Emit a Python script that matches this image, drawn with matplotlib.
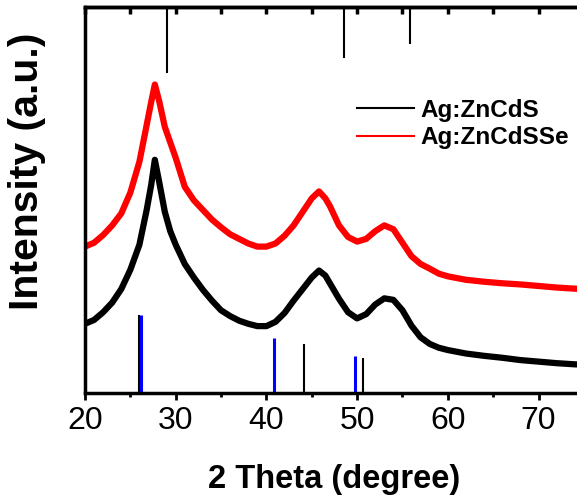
import matplotlib
matplotlib.use("Agg")
import matplotlib.pyplot as plt
from matplotlib.ticker import MultipleLocator, NullFormatter

plt.rcParams["font.family"] = ["Liberation Sans", "DejaVu Sans"]

# ---------- DATA ----------
two_theta = [20, 21, 22, 23, 24, 25, 26, 26.8, 27.3, 27.7, 28.2, 28.8, 29.4, 30,
             31, 32, 33, 34, 35, 36, 37, 38, 39, 40, 41, 42, 43, 44, 45, 45.8,
             46.5, 47, 48, 49, 50, 51, 52, 53, 54, 55, 56, 57, 58, 59, 60, 62,
             64, 66, 68, 70, 72, 74, 75]

zncds = [18.0, 19.0, 21.0, 23.5, 27.0, 32.0, 38.5, 47.5, 54.0, 60.5, 54.5, 47.0,
         42.0, 38.5, 33.5, 30.0, 26.8, 24.0, 21.5, 20.0, 18.8, 18.0, 17.4, 17.4,
         18.5, 20.8, 24.0, 27.0, 30.0, 31.8, 30.5, 28.5, 24.5, 21.0, 19.4, 20.5,
         23.0, 24.6, 24.2, 21.5, 17.5, 14.5, 12.8, 11.8, 11.2, 10.3, 9.7, 9.2,
         8.6, 8.2, 7.8, 7.5, 7.4]

zncdsse = [38.0, 39.0, 41.0, 43.5, 46.6, 52.0, 60.0, 69.5, 75.5, 80.0, 75.5, 69.0,
           65.0, 61.0, 53.5, 50.0, 47.5, 45.0, 43.0, 41.2, 40.0, 38.8, 38.0, 38.0,
           38.8, 40.8, 43.5, 47.0, 50.5, 52.3, 50.5, 48.5, 43.5, 40.5, 39.3, 40.0,
           42.0, 43.5, 42.5, 39.0, 35.5, 33.5, 32.3, 31.0, 30.3, 29.4, 28.9, 28.5,
           28.2, 27.8, 27.4, 27.1, 27.0]

# reference patterns
top_ref_pos = [29.0, 48.6, 55.8]
top_ref_len = [17.0, 13.1, 9.6]
bot_black_pos = [25.9, 44.2, 50.6]
bot_black_h = [20.3, 12.7, 9.1]
bot_blue_pos = [26.2, 40.8, 49.8]
bot_blue_h = [20.3, 14.3, 9.7]

fig = plt.figure(figsize=(5.77, 4.97), dpi=100)
ax = fig.add_axes([0.1473, 0.2087, 0.8646, 0.7766])

ax.plot(two_theta, zncds, color="black", lw=4.5, label="Ag:ZnCdS")
ax.plot(two_theta, zncdsse, color="red", lw=4.5, label="Ag:ZnCdSSe")

ax.vlines(top_ref_pos, [100 - h for h in top_ref_len], 100, color="black", lw=1.5)
ax.vlines(bot_black_pos, 0, bot_black_h, color="black", lw=1.5)
ax.vlines(bot_blue_pos, 0, bot_blue_h, color="blue", lw=2.2)

ax.set_xlim(20, 75)
ax.set_ylim(0, 100)
ax.set_yticks([])

ax.xaxis.set_major_locator(MultipleLocator(10))
ax.xaxis.set_minor_locator(MultipleLocator(5))
ax.tick_params(axis="x", which="major", direction="out", length=5, width=2,
               labelsize=23, pad=4)
ax.tick_params(axis="x", which="minor", direction="out", length=3, width=2)

# top axis ticks (inward, no labels)
top = ax.secondary_xaxis("top")
top.xaxis.set_major_locator(MultipleLocator(5))
top.xaxis.set_major_formatter(NullFormatter())
top.tick_params(direction="in", length=5, width=2.5)

for sp in ax.spines.values():
    sp.set_linewidth(2.5)
top.spines["top"].set_linewidth(2.5)

ax.set_xlabel("2 Theta (degree)", fontsize=23.5, fontweight="bold", labelpad=20)
ax.set_ylabel("Intensity (a.u.)", fontsize=29.5, fontweight="bold")
ax.yaxis.set_label_coords(-0.079, 0.576)

leg = ax.legend(loc="upper left", bbox_to_anchor=(0.521, 0.795), frameon=False,
                handlelength=2.35, handletextpad=0.25, labelspacing=0.2,
                borderpad=0, prop={"weight": "bold", "size": 17.5})
for line in leg.get_lines():
    line.set_linewidth(1.5)

fig.savefig("out.png", dpi=100)
